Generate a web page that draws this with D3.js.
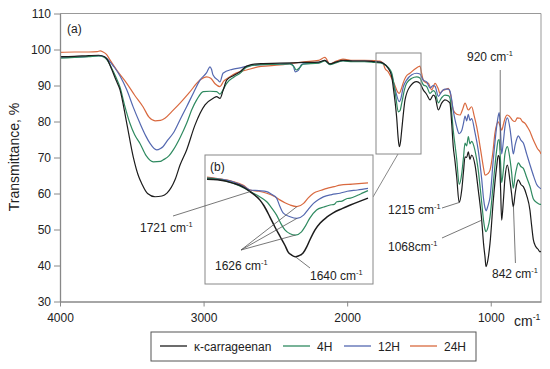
<!DOCTYPE html>
<html>
<head>
<meta charset="utf-8">
<script src="https://cdn.jsdelivr.net/npm/d3@7"></script>
<style>
  body { margin: 0; background: #fff; }
  svg text { font-family: Arial, 'Liberation Sans', sans-serif; fill: #222; }
</style>
</head>
<body>
<svg id="canvas"></svg>
<script>
/** Spectra: [wavenumber cm-1, transmittance %] */
const kappa = [[4000,98.0],[3900,98.1],[3800,98.3],[3730,98.4],[3690,98.0],[3670,97.2],[3640,94.5],[3610,91.5],[3582,88.8],[3535,79.5],[3490,70.2],[3450,64.5],[3431,62.8],[3390,60.0],[3338,59.1],[3290,59.3],[3255,60.1],[3199,63.8],[3164,67.9],[3118,72.1],[3060,79.0],[2990,84.6],[2930,86.5],[2909,86.9],[2886,86.4],[2865,88.5],[2839,91.5],[2790,92.8],[2746,93.8],[2700,95.4],[2600,96.1],[2468,96.2],[2377,96.3],[2300,96.4],[2200,96.5],[2155,97.0],[2120,96.0],[2080,96.5],[2029,97.0],[1960,96.8],[1880,96.8],[1806,96.6],[1771,96.5],[1748,96.2],[1714,94.8],[1690,92.5],[1679,89.5],[1665,85.0],[1655,81.0],[1645,75.5],[1637,73.0],[1628,74.5],[1620,77.6],[1605,83.5],[1597,86.0],[1563,89.7],[1516,91.1],[1493,90.6],[1470,88.8],[1446,87.5],[1423,86.0],[1400,87.3],[1388,86.9],[1365,83.2],[1342,85.1],[1319,86.0],[1296,85.6],[1284,85.1],[1272,79.5],[1261,73.0],[1249,69.0],[1237,64.5],[1220,57.5],[1202,61.0],[1190,66.0],[1179,70.2],[1168,70.0],[1156,71.6],[1145,69.5],[1133,70.7],[1110,68.0],[1087,61.0],[1063,52.6],[1050,46.0],[1040,42.4],[1033,39.7],[1020,41.5],[1005,46.2],[982,58.2],[959,67.4],[948,70.5],[941,70.2],[932,62.0],[924,52.6],[912,58.0],[901,64.3],[884,67.9],[866,63.5],[855,60.0],[843,56.3],[830,60.0],[820,62.5],[808,63.8],[790,62.5],[773,61.9],[750,59.5],[727,55.4],[715,51.0],[703,47.1],[690,45.5],[680,44.9],[670,44.5],[657,43.8],[650,44.0]];

const h4 = [[4000,97.6],[3900,97.8],[3800,98.0],[3730,98.2],[3690,97.8],[3670,97.0],[3640,94.8],[3610,92.3],[3582,89.5],[3550,84.5],[3513,79.5],[3480,76.3],[3443,73.9],[3400,70.5],[3350,68.8],[3300,68.9],[3283,69.3],[3240,70.5],[3211,72.1],[3164,75.5],[3118,79.5],[3080,83.5],[3048,86.0],[3002,88.3],[2955,88.4],[2909,88.3],[2886,87.6],[2865,88.8],[2839,90.6],[2790,92.3],[2746,93.4],[2700,95.1],[2600,95.8],[2468,95.9],[2400,96.0],[2370,95.2],[2355,94.3],[2330,95.0],[2308,95.9],[2200,96.2],[2155,96.8],[2120,95.8],[2080,96.3],[2029,96.8],[1960,96.6],[1880,96.6],[1806,96.4],[1771,96.3],[1748,96.0],[1714,95.0],[1690,93.5],[1679,91.5],[1660,86.5],[1644,82.7],[1632,83.0],[1620,85.1],[1600,89.0],[1586,90.6],[1550,92.0],[1516,92.4],[1493,92.1],[1470,90.2],[1446,89.7],[1423,87.8],[1400,88.6],[1388,88.2],[1365,85.2],[1342,86.6],[1319,87.3],[1296,87.2],[1284,86.5],[1272,82.5],[1261,77.5],[1249,73.5],[1237,69.5],[1220,62.5],[1202,65.5],[1190,70.0],[1179,74.0],[1168,73.2],[1156,75.8],[1145,73.8],[1133,74.5],[1110,72.0],[1087,66.5],[1063,57.5],[1050,52.5],[1040,50.0],[1033,49.4],[1020,50.5],[1005,53.5],[982,63.0],[959,72.0],[948,74.8],[941,75.0],[932,69.0],[924,63.0],[912,66.5],[901,71.0],[884,73.0],[866,69.5],[855,66.0],[843,61.5],[830,65.0],[820,67.0],[808,68.5],[790,67.5],[773,67.0],[750,64.5],[727,62.0],[703,58.5],[690,57.8],[680,57.5],[657,57.0],[650,57.0]];

const h12 = [[4000,97.8],[3900,97.9],[3800,98.1],[3730,98.3],[3690,98.0],[3670,97.4],[3640,96.0],[3620,95.0],[3580,92.5],[3535,88.8],[3490,84.0],[3443,79.5],[3400,75.8],[3373,73.9],[3327,72.1],[3300,72.5],[3283,73.0],[3250,74.8],[3211,76.8],[3164,80.5],[3118,84.1],[3070,88.0],[3025,91.5],[2980,93.5],[2955,95.2],[2945,94.5],[2934,92.9],[2900,91.5],[2886,91.0],[2865,93.4],[2800,94.5],[2746,94.9],[2700,95.3],[2600,95.8],[2468,95.9],[2400,96.1],[2375,95.5],[2363,93.8],[2340,94.2],[2320,95.7],[2308,96.0],[2200,96.3],[2155,97.0],[2120,95.9],[2080,96.4],[2029,96.9],[1960,96.8],[1880,96.8],[1806,96.6],[1771,96.5],[1748,96.1],[1714,94.8],[1690,93.0],[1679,91.0],[1660,88.0],[1637,85.5],[1625,86.5],[1610,89.5],[1586,91.5],[1550,93.0],[1516,93.4],[1493,93.2],[1470,91.5],[1446,91.0],[1423,89.3],[1400,90.0],[1388,89.8],[1365,87.0],[1342,88.3],[1319,89.0],[1296,89.0],[1284,88.5],[1272,86.0],[1261,83.0],[1249,80.5],[1237,78.5],[1220,76.6],[1202,77.5],[1190,79.5],[1179,81.5],[1168,80.2],[1156,82.0],[1145,80.3],[1133,80.8],[1110,77.0],[1087,72.0],[1063,64.0],[1050,58.5],[1040,56.0],[1033,55.2],[1020,56.5],[1005,59.0],[982,69.5],[959,78.5],[948,81.5],[941,82.5],[932,77.5],[924,71.0],[912,74.5],[901,78.5],[884,81.0],[866,78.0],[855,74.5],[843,71.0],[830,73.5],[820,75.0],[808,76.0],[790,74.8],[773,74.0],[750,71.0],[727,68.0],[703,65.0],[690,63.5],[680,62.5],[657,61.5],[650,61.3]];

const h24 = [[4000,99.2],[3900,99.3],[3800,99.3],[3740,99.4],[3720,99.6],[3700,99.3],[3675,98.6],[3652,97.1],[3600,94.0],[3535,90.6],[3480,87.3],[3422,84.1],[3380,81.2],[3338,80.2],[3300,80.3],[3269,80.9],[3220,82.8],[3164,85.1],[3100,88.0],[3025,91.5],[2978,92.4],[2950,92.0],[2920,90.5],[2886,89.7],[2860,91.2],[2830,92.1],[2770,93.5],[2700,94.3],[2600,95.3],[2468,95.7],[2377,96.2],[2300,96.6],[2200,97.0],[2155,97.8],[2120,96.0],[2080,96.7],[2029,97.3],[1960,97.0],[1880,97.0],[1806,96.9],[1771,96.8],[1748,96.0],[1737,94.8],[1714,93.8],[1690,92.0],[1670,90.3],[1650,88.3],[1637,87.8],[1625,88.8],[1611,90.6],[1590,92.5],[1563,93.4],[1520,94.8],[1493,95.4],[1482,93.5],[1470,91.5],[1450,90.8],[1435,90.6],[1411,88.8],[1388,90.6],[1365,89.0],[1354,87.8],[1330,88.8],[1319,88.8],[1296,89.2],[1280,87.5],[1261,83.2],[1237,82.0],[1214,81.8],[1195,83.5],[1179,85.1],[1156,83.2],[1133,84.1],[1115,81.5],[1098,78.6],[1080,74.5],[1063,70.2],[1050,67.0],[1040,65.1],[1020,65.5],[1005,66.5],[985,71.5],[971,76.7],[948,79.9],[935,78.8],[924,77.6],[910,79.5],[901,80.8],[885,81.8],[866,81.3],[850,80.4],[831,80.0],[815,81.0],[796,80.9],[780,80.0],[761,79.5],[745,78.5],[727,77.2],[710,75.5],[692,73.9],[675,72.5],[657,71.6],[650,71.0]];

/** Inset (b): 1810 - 1500 cm-1 */
const insetKappa = [[1810,96.7],[1790,96.5],[1760,95.5],[1740,94.3],[1727,92.9],[1708,90.3],[1700,88.5],[1689,85.2],[1679,82.0],[1669,79.1],[1660,76.5],[1654,74.5],[1647,73.5],[1640,73.0],[1633,73.3],[1625,74.1],[1618,76.0],[1612,78.1],[1602,81.2],[1592,83.3],[1580,85.0],[1567,86.4],[1550,87.7],[1534,88.8],[1515,90.0],[1500,90.9]];
const insetH4 = [[1810,97.0],[1790,96.7],[1760,95.5],[1740,94.1],[1727,92.9],[1710,91.5],[1695,89.8],[1685,87.8],[1676,85.7],[1668,83.2],[1660,81.2],[1650,80.0],[1640,79.6],[1628,80.6],[1620,82.5],[1612,84.8],[1599,87.3],[1585,88.2],[1573,88.8],[1565,89.0],[1560,89.8],[1550,90.0],[1540,90.8],[1534,90.9],[1520,91.8],[1510,92.5],[1500,93.2]];
const insetH12 = [[1810,97.0],[1790,96.8],[1760,95.9],[1740,94.6],[1727,93.4],[1710,93.2],[1695,92.9],[1685,92.0],[1676,90.9],[1670,88.5],[1663,86.3],[1650,85.2],[1637,84.7],[1624,85.7],[1615,87.5],[1605,89.3],[1595,90.5],[1586,91.3],[1570,92.0],[1554,92.4],[1540,93.0],[1520,93.4],[1500,93.9]];
const insetH24 = [[1810,97.3],[1790,96.9],[1760,96.0],[1740,94.8],[1727,93.4],[1710,93.0],[1695,92.4],[1680,91.4],[1669,90.3],[1660,89.5],[1650,88.8],[1637,88.3],[1624,89.3],[1615,91.0],[1605,92.4],[1590,93.3],[1579,93.9],[1565,94.4],[1554,94.9],[1530,95.2],[1500,95.6]];

const seriesNames = ['κ-carrageenan', '4H', '12H', '24H'];
const seriesColors = ['#1c1c1c', '#2f8a60', '#5468b0', '#d9693f'];
const mainSeries = [kappa, h4, h12, h24];
const insetSeries = [insetKappa, insetH4, insetH12, insetH24];

const xTicks = [4000, 3000, 2000, 1000];
const yTicks = [30, 40, 50, 60, 70, 80, 90, 100, 110];

let width = 550;
let height = 369;
let plotLeft = 60, plotRight = 541, plotTop = 13.5, plotBottom = 301.5;

let canvas = d3.select('#canvas').attr('width', width).attr('height', height);

let xScale = d3.scaleLinear().domain([4000, 650]).range([plotLeft, plotRight]);
let yScale = d3.scaleLinear().domain([30, 110]).range([plotBottom, plotTop]);

let xInset = d3.scaleLinear().domain([1810, 1500]).range([207, 368]);
let yInset = d3.scaleLinear().domain([73, 97]).range([256.7, 178.2]);

/** frame */
canvas.append('line').attr('x1', plotLeft).attr('x2', plotRight).attr('y1', plotTop).attr('y2', plotTop)
    .attr('stroke', '#999');
canvas.append('line').attr('x1', plotRight).attr('x2', plotRight).attr('y1', plotTop).attr('y2', plotBottom)
    .attr('stroke', '#999');

canvas.append('clipPath').attr('id', 'plotclip').append('rect')
    .attr('x', plotLeft).attr('y', plotTop).attr('width', plotRight - plotLeft).attr('height', plotBottom - plotTop);

/** main curves */
let mainLine = d3.line().x(d => xScale(d[0])).y(d => yScale(d[1])).curve(d3.curveMonotoneX);
let plot = canvas.append('g').attr('clip-path', 'url(#plotclip)');
[3, 2, 1, 0].forEach(i => {
    plot.append('path')
        .attr('d', mainLine(mainSeries[i]))
        .attr('fill', 'none')
        .attr('stroke', seriesColors[i])
        .attr('stroke-width', 1.2);
});

/** axes */
let xAxis = d3.axisBottom(xScale).tickValues(xTicks).tickFormat(d3.format('d'))
    .tickSize(5).tickSizeOuter(0).tickPadding(7);
let yAxis = d3.axisLeft(yScale).tickValues(yTicks).tickSize(6).tickSizeOuter(0).tickPadding(3);

let gx = canvas.append('g').attr('transform', `translate(0, ${plotBottom})`).call(xAxis);
let gy = canvas.append('g').attr('transform', `translate(${plotLeft}, 0)`).call(yAxis);
[gx, gy].forEach(g => {
    g.select('.domain').attr('stroke', '#888').attr('stroke-width', 1.3);
    g.selectAll('.tick line').attr('stroke', '#888');
    g.selectAll('.tick text').attr('font-size', 12).attr('fill', '#222')
        .attr('font-family', "Arial, 'Liberation Sans', sans-serif");
});

canvas.append('text')
    .attr('transform', 'translate(19, 157) rotate(-90)')
    .attr('text-anchor', 'middle')
    .attr('font-size', 14)
    .text('Transmittance, %');

const addWave = (x, y, label, size) => {
    let t = canvas.append('text').attr('x', x).attr('y', y).attr('font-size', size);
    t.append('tspan').text(label);
    t.append('tspan').attr('font-size', size * 0.62).attr('dy', -size * 0.42).text('-1');
    return t;
};

addWave(514, 326, 'cm', 14);

/** zoom rectangle and inset */
canvas.append('rect').attr('x', 376).attr('y', 53).attr('width', 45).attr('height', 101)
    .attr('fill', 'none').attr('stroke', '#888');
canvas.append('line').attr('x1', 373).attr('y1', 197).attr('x2', 398).attr('y2', 154)
    .attr('stroke', '#888');
canvas.append('rect').attr('x', 205).attr('y', 155).attr('width', 168).attr('height', 129)
    .attr('fill', '#fff').attr('stroke', '#888');

let insetLine = d3.line().x(d => xInset(d[0])).y(d => yInset(d[1])).curve(d3.curveMonotoneX);
[3, 2, 1, 0].forEach(i => {
    canvas.append('path')
        .attr('d', insetLine(insetSeries[i]))
        .attr('fill', 'none')
        .attr('stroke', seriesColors[i])
        .attr('stroke-width', i === 0 ? 1.5 : 1.2);
});

/** annotations */
const pointer = (x1, y1, x2, y2) => {
    canvas.append('line').attr('x1', x1).attr('y1', y1).attr('x2', x2).attr('y2', y2)
        .attr('stroke', '#555').attr('stroke-width', 0.8);
};

canvas.append('text').attr('x', 67).attr('y', 33).attr('font-size', 12).text('(a)');
canvas.append('text').attr('x', 210).attr('y', 171).attr('font-size', 12).text('(b)');

addWave(467, 61, '920 cm', 12);
pointer(xScale(920) - 2, 70, xScale(920) - 2, yScale(72));

addWave(388, 214, '1215 cm', 12);
pointer(442, 208, xScale(1220), yScale(57.5));

addWave(388, 251, '1068cm', 12);
pointer(442, 238, xScale(1068), yScale(52.5));

addWave(492, 278, '842 cm', 12);
pointer(xScale(842) + 2, 263, xScale(842), yScale(56.5));

addWave(140, 232, '1721 cm', 12);
pointer(173, 216, xInset(1727), yInset(92.9));

addWave(215, 270, '1626 cm', 12);
[[1637, 88.3], [1637, 84.7], [1640, 79.6]].forEach(p => {
    pointer(241, 250, xInset(p[0]), yInset(p[1]));
});

addWave(310, 280, '1640 cm', 12);
pointer(xInset(1640), yInset(73), 310, 268);

/** legend */
let legend = canvas.append('g');
legend.append('rect').attr('x', 151).attr('y', 332).attr('width', 325).attr('height', 29)
    .attr('fill', '#fff').attr('stroke', '#555');
const legendX = [160, 283, 344, 410];
seriesNames.forEach((name, i) => {
    legend.append('line').attr('x1', legendX[i]).attr('x2', legendX[i] + 27)
        .attr('y1', 346).attr('y2', 346)
        .attr('stroke', seriesColors[i]).attr('stroke-width', 1.3);
    legend.append('text').attr('x', legendX[i] + 34).attr('y', 350.5)
        .attr('font-size', 12).text(name);
});
</script>
</body>
</html>
